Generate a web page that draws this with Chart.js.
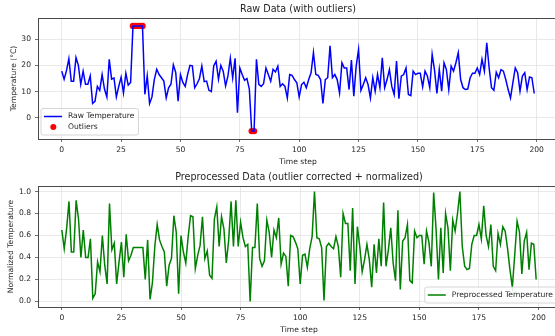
<!DOCTYPE html>
<html>
<head>
<meta charset="utf-8">
<title>Raw vs preprocessed temperature</title>
<script src="https://cdn.jsdelivr.net/npm/chart.js@4.4.0/dist/chart.umd.min.js"></script>
<style>
  html, body { margin: 0; padding: 0; background: #fff; overflow: hidden; }
  #wrap { position: relative; width: 555px; height: 336px; overflow: hidden; }
  .pane { position: absolute; left: 0; width: 562px; height: 168px; }
</style>
</head>
<body>
<div id="wrap">
  <div class="pane" style="top:0"><canvas id="rawChart" width="562" height="168"></canvas></div>
  <div class="pane" style="top:168px"><canvas id="procChart" width="562" height="168"></canvas></div>
</div>
<script>
// raw readings, one per time step (0..199)
const rawTemp = [
  17.8, 14.7, 18, 22.5, 14, 14, 23, 20, 12.8, 17.8,
  12.8, 12.8, 16, 5.5, 6.3, 12, 10.5, 16.5, 11, 8,
  22.3, 14.8, 15.2, 8, 12, 15.5, 9.5, 17, 12.5, 13.5,
  35, 35, 35, 35, 35, 9, 16, 5.5, 8, 14.7,
  18.5, 16.5, 15.3, 14, 7.6, 11.5, 12.8, 20.2, 17.3, 6.4,
  16.5, 13.5, 12, 16.5, 20, 19.8, 11.5, 13, 15, 19.8,
  13.8, 14, 10.5, 10, 19.8, 21.6, 14.7, 20, 17.8, 12.2,
  16, 22.7, 15.2, 22.7, 2, 19, 16.5, 14.3, 15, 11,
  -5, -5, 22.3, 12.8, 12, 13, 19, 16.5, 14, 18.5,
  17.5, 19.7, 12, 13, 12, 7.6, 16.5, 16.2, 14.6, 13.4,
  8, 12.7, 13.6, 11.5, 14.6, 17.2, 24.8, 16.5, 16.2, 14.6,
  5.5, 14.6, 15.3, 27.4, 15.3, 16.5, 14.6, 9.5, 21, 19,
  19, 10.8, 22, 8.3, 19.7, 26, 10.5, 12.7, 15.3, 12.7,
  7.6, 15.3, 10.2, 16.5, 11.5, 22.9, 11.5, 14.6, 18.4, 12,
  8.9, 21.6, 7.3, 15.9, 16.5, 19, 8.9, 8.5, 17.8, 16.5,
  17, 17, 11.8, 17.8, 15.9, 11.5, 24.2, 18.2, 9.3, 18.4,
  10.2, 21, 18.4, 10.8, 19.7, 17.8, 21, 24.8, 14.6, 11.5,
  10.8, 11, 15.3, 17, 17, 19, 16.5, 22.3, 17.8, 28.6,
  19, 11.5, 10.5, 17.4, 15.3, 18.4, 17.8, 14.6, 10.8, 7.6,
  13.4, 19, 17.2, 10.2, 15.9, 17.2, 10.8, 15.6, 15.3, 9.3
];

// steps flagged as outliers in the raw series
const outlierSteps = [30, 31, 32, 33, 34, 80, 81];

// corrected + min-max normalized series
const procTemp = [
  0.65, 0.48, 0.66, 0.91, 0.45, 0.45, 0.92, 0.75, 0.4, 0.65,
  0.4, 0.4, 0.57, 0.03, 0.07, 0.36, 0.27, 0.6, 0.33, 0.16,
  0.89, 0.47, 0.53, 0.16, 0.36, 0.54, 0.22, 0.61, 0.37, 0.42,
  0.49, 0.49, 0.49, 0.49, 0.49, 0.2, 0.56, 0.02, 0.17, 0.5,
  0.7, 0.56, 0.5, 0.45, 0.14, 0.33, 0.39, 0.78, 0.63, 0.07,
  0.6, 0.45, 0.35, 0.59, 0.78, 0.77, 0.3, 0.42, 0.51, 0.77,
  0.39, 0.46, 0.24, 0.21, 0.75, 0.86, 0.5, 0.77, 0.66, 0.35,
  0.56, 0.91, 0.5, 0.92, 0.5, 0.72, 0.58, 0.5, 0.52, 0.0,
  0.49, 0.49, 0.89, 0.39, 0.32, 0.37, 0.74, 0.63, 0.4, 0.65,
  0.58, 0.76, 0.34, 0.44, 0.41, 0.14, 0.6, 0.59, 0.54, 0.48,
  0.16, 0.42, 0.43, 0.31, 0.48, 0.59, 1.0, 0.58, 0.57, 0.49,
  0.01, 0.5, 0.53, 0.5, 0.48, 0.59, 0.5, 0.22, 0.8, 0.71,
  0.71, 0.28, 0.85, 0.16, 0.68, 0.5, 0.27, 0.38, 0.52, 0.38,
  0.13, 0.52, 0.26, 0.57, 0.32, 0.9, 0.32, 0.47, 0.67, 0.35,
  0.19, 0.83, 0.11, 0.55, 0.58, 0.7, 0.19, 0.17, 0.64, 0.58,
  0.6, 0.6, 0.34, 0.64, 0.54, 0.32, 0.99, 0.66, 0.2, 0.67,
  0.26, 0.8, 0.67, 0.28, 0.74, 0.64, 0.8, 1.0, 0.5, 0.32,
  0.29, 0.3, 0.52, 0.6, 0.6, 0.7, 0.57, 0.87, 0.6, 0.5,
  0.7, 0.32, 0.28, 0.62, 0.52, 0.68, 0.64, 0.48, 0.29, 0.13,
  0.42, 0.73, 0.63, 0.25, 0.55, 0.63, 0.29, 0.53, 0.52, 0.2
];

// tick labels
const xTicks = [0, 25, 50, 75, 100, 125, 150, 175, 200];
const rawYTicks = [0, 10, 20, 30];
const procYTicks = [0, 0.2, 0.4, 0.6, 0.8, 1.0];

const FONT = "'DejaVu Sans', sans-serif";
const TEXT = "#262626";
const GRID = "#e3e3e3";
const FRAME = "#4a4a4a";

const toPoints = arr => arr.map((v, i) => ({ x: i, y: v }));

// box round the axes (matplotlib-like spines)
const framePlugin = {
    id: "frame",
    afterDatasetsDraw(chart) {
        const { ctx, chartArea: a } = chart;
        ctx.save();
        ctx.strokeStyle = FRAME;
        ctx.lineWidth = 1;
        ctx.strokeRect(Math.round(a.left) + 0.5, Math.round(a.top) + 0.5,
            Math.round(a.right - a.left), Math.round(a.bottom - a.top));
        ctx.restore();
    }
};

// legend drawn inside the plot, in a corner
const boxLegend = {
    id: "boxLegend",
    afterDraw(chart, args, opts) {
        const { ctx, chartArea: a } = chart;
        const sets = chart.data.datasets;
        const rowH = 10.5, pad = 2.75;
        ctx.save();
        ctx.font = `7.6px ${FONT}`;
        const textW = Math.max(...sets.map(ds => ctx.measureText(ds.label).width));
        const boxW = 27 + textW + 4;
        const boxH = pad * 2 + rowH * sets.length;
        const x0 = opts.corner === "left" ? a.left + 3 : a.right - 3 - boxW;
        const y0 = a.bottom - 4 - boxH;

        ctx.fillStyle = "rgba(255,255,255,0.85)";
        ctx.strokeStyle = "#cccccc";
        ctx.lineWidth = 0.8;
        ctx.beginPath();
        ctx.roundRect(x0, y0, boxW, boxH, 2);
        ctx.fill();
        ctx.stroke();

        sets.forEach((ds, i) => {
            const cy = y0 + pad + rowH * i + rowH / 2;
            if (ds.type === "scatter") {
                ctx.fillStyle = ds.backgroundColor;
                ctx.beginPath();
                ctx.arc(x0 + 12.3, cy, 3, 0, Math.PI * 2);
                ctx.fill();
            } else {
                ctx.strokeStyle = ds.borderColor;
                ctx.lineWidth = 1.5;
                ctx.beginPath();
                ctx.moveTo(x0 + 3, cy);
                ctx.lineTo(x0 + 21, cy);
                ctx.stroke();
            }
            ctx.fillStyle = TEXT;
            ctx.textBaseline = "middle";
            ctx.fillText(ds.label, x0 + 27, cy);
        });
        ctx.restore();
    }
};

function axisOptions(yMin, yMax, yTicks, yTitle, yTitlePad, fmt) {
    return {
        x: {
            type: "linear",
            min: -10,
            max: 209,
            afterBuildTicks: s => { s.ticks = xTicks.map(v => ({ value: v })); },
            afterFit: s => { s.height = 29; },
            grid: { color: GRID, lineWidth: 0.8, tickColor: FRAME, tickLength: 3 },
            border: { display: false },
            ticks: { color: TEXT, padding: 3, maxRotation: 0, font: { family: FONT, size: 7.6 } },
            title: { display: true, text: "Time step", color: TEXT,
                     font: { family: FONT, size: 7.6 }, padding: { top: 0, bottom: 1.5 } }
        },
        y: {
            min: yMin,
            max: yMax,
            afterBuildTicks: s => { s.ticks = yTicks.map(v => ({ value: v })); },
            afterFit: s => { s.width = 38; },
            grid: { color: GRID, lineWidth: 0.8, tickColor: FRAME, tickLength: 3 },
            border: { display: false },
            ticks: { color: TEXT, padding: 4, font: { family: FONT, size: 7.6 }, callback: fmt },
            title: { display: true, text: yTitle, color: TEXT,
                     font: { family: FONT, size: 7.6 }, padding: { top: yTitlePad, bottom: 0 } }
        }
    };
}

function baseOptions(title, corner, scales) {
    return {
        responsive: false,
        animation: false,
        devicePixelRatio: 1,
        layout: { padding: { left: 0, right: 2, top: 0, bottom: 0 } },
        scales: scales,
        plugins: {
            legend: { display: false },
            tooltip: { enabled: false },
            title: {
                display: true, text: title, fullSize: false, color: TEXT,
                font: { family: FONT, size: 9.6, weight: "normal" },
                padding: { top: 4.2, bottom: 2.3 }
            },
            boxLegend: { corner: corner }
        }
    };
}

function createRawChart() {
    const ctx = document.getElementById("rawChart").getContext("2d");
    new Chart(ctx, {
        type: "line",
        data: {
            datasets: [{
                label: "Raw Temperature",
                data: toPoints(rawTemp),
                borderColor: "#0000ff",
                borderWidth: 1.5,
                pointRadius: 0,
                tension: 0
            }, {
                type: "scatter",
                label: "Outliers",
                data: outlierSteps.map(i => ({ x: i, y: rawTemp[i] })),
                backgroundColor: "#ff0000",
                borderWidth: 0,
                pointRadius: 3.2
            }]
        },
        options: baseOptions("Raw Data (with outliers)", "left",
            axisOptions(-8, 38, rawYTicks, "Temperature (°C)", 9.5, v => String(v))),
        plugins: [framePlugin, boxLegend]
    });
}

function createProcChart() {
    const ctx = document.getElementById("procChart").getContext("2d");
    new Chart(ctx, {
        type: "line",
        data: {
            datasets: [{
                label: "Preprocessed Temperature",
                data: toPoints(procTemp),
                borderColor: "#008000",
                borderWidth: 1.5,
                pointRadius: 0,
                tension: 0
            }]
        },
        options: baseOptions("Preprocessed Data (outlier corrected + normalized)", "right",
            axisOptions(-0.05, 1.05, procYTicks, "Normalized Temperature", 6.5, v => v.toFixed(1))),
        plugins: [framePlugin, boxLegend]
    });
}

createRawChart();
createProcChart();
</script>
</body>
</html>
